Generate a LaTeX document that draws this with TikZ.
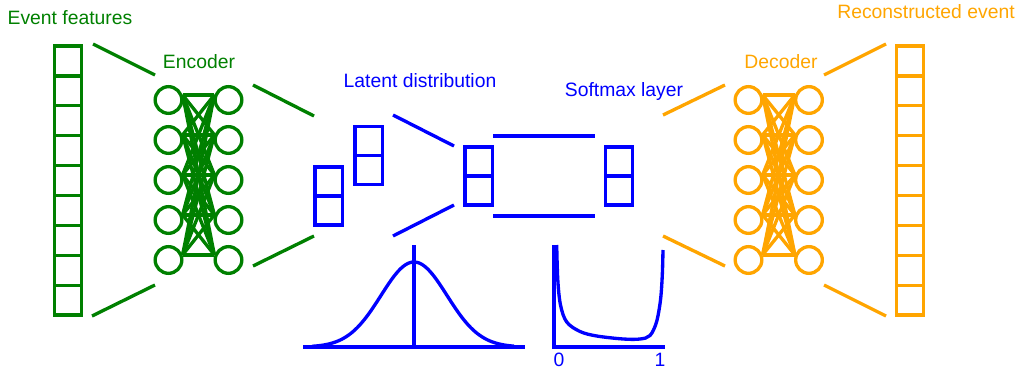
\documentclass[tikz,border=0pt]{standalone}
\usepackage{fontspec}
\setmainfont{Liberation Sans}
\definecolor{encg}{RGB}{0,128,0}
\definecolor{latb}{RGB}{0,0,255}
\definecolor{deco}{RGB}{255,165,0}
\begin{document}
\begin{tikzpicture}[x=0.75pt,y=-0.75pt,
  lw/.style={line width=2.5pt},
  cell/.style={draw,rectangle,lw,minimum width=20.5pt,minimum height=22.4pt,inner sep=0pt},
  lcell/.style={draw,rectangle,lw,minimum width=20.5pt,minimum height=21.6pt,inner sep=0pt},
  neuron/.style={draw,circle,lw,minimum size=20pt,inner sep=0pt},
  lbl/.style={font=\fontsize{14.5pt}{16pt}\selectfont,anchor=base,inner sep=0pt},
  wire/.style={lw}]
\useasboundingbox (0,0) rectangle (1025,368);

% ---------- input column ----------
\foreach \k in {0,...,8}
  \node[cell,encg] (in\k) at (68,{46+29.9*(\k+0.5)}) {};
\node[lbl,encg] (tin) at (70,24) {Event features};

% ---------- encoder ----------
\node[lbl,encg] (tenc) at (199,68) {Encoder};
\foreach \i in {1,...,5} {
  \node[neuron,encg] (el\i) at (168.5,{60+40*\i}) {};
  \node[neuron,encg] (er\i) at (228.5,{60+40*\i}) {};
}
\foreach \i in {1,...,5}
  \foreach \j in {1,...,5}
    \draw[wire,encg] (el\i.20) -- (er\j.160);
\draw[wire,encg] (93,44) -- (155,75);
\draw[wire,encg] (92,316) -- (155,285);
\draw[wire,encg] (253,85) -- (314,116);
\draw[wire,encg] (253,266) -- (314,236);

% ---------- latent distribution ----------
\node[lbl,latb] (tlat) at (420,87) {Latent distribution};
\node[lcell,latb] (la1) at (328.5,181.5) {};
\node[lcell,latb] (la2) at (328.5,210.5) {};
\node[lcell,latb] (lb1) at (368.5,141) {};
\node[lcell,latb] (lb2) at (368.5,170) {};
\node[lcell,latb] (lc1) at (478.5,161.5) {};
\node[lcell,latb] (lc2) at (478.5,190.5) {};
\draw[wire,latb] (393,115) -- (454,146);
\draw[wire,latb] (393,236) -- (454,205);
\draw[wire,latb] (493,136) -- (595,136);
\draw[wire,latb] (493,216) -- (595,216);

% ---------- softmax layer ----------
\node[lbl,latb] (tsm) at (624,96) {Softmax layer};
\node[lcell,latb] (sm1) at (619,161.5) {};
\node[lcell,latb] (sm2) at (619,190.5) {};

% ---------- gaussian ----------
\draw[wire,latb] (303,347) -- (525,347);
\draw[wire,latb] (414,245) -- (414,347);
\draw[wire,latb,domain=312:514,samples=90]
  plot (\x,{347-85*exp(-((\x-414)/33)^2/2)});

% ---------- softmax curve ----------
\draw[wire,latb] (554,245) -- (554,347) -- (665,347);
\draw[wire,latb] plot[smooth,tension=0.55] coordinates {
  (556.7,245) (557.8,280) (560.5,305) (566.7,322) (580,331.5) (596.7,336)
  (623.3,339) (640,339) (650,335.5) (656.5,322) (660.5,300) (662.3,275) (663,250)};
\node[lbl,latb] (t0) at (559,366) {0};
\node[lbl,latb] (t1) at (660,366) {1};

% ---------- decoder ----------
\node[lbl,deco] (tdec) at (781,68) {Decoder};
\foreach \i in {1,...,5} {
  \node[neuron,deco] (dl\i) at (748.5,{60+40*\i}) {};
  \node[neuron,deco] (dr\i) at (809,{60+40*\i}) {};
}
\foreach \i in {1,...,5}
  \foreach \j in {1,...,5}
    \draw[wire,deco] (dl\i.20) -- (dr\j.160);
\draw[wire,deco] (663,115) -- (725,85);
\draw[wire,deco] (663,236) -- (725,266);
\draw[wire,deco] (824,75) -- (886,44);
\draw[wire,deco] (824,285) -- (886,316);

% ---------- output column ----------
\foreach \k in {0,...,8}
  \node[cell,deco] (out\k) at (910,{46+29.9*(\k+0.5)}) {};
\node[lbl,deco] (tout) at (926,18) {Reconstructed event};
\end{tikzpicture}
\end{document}
